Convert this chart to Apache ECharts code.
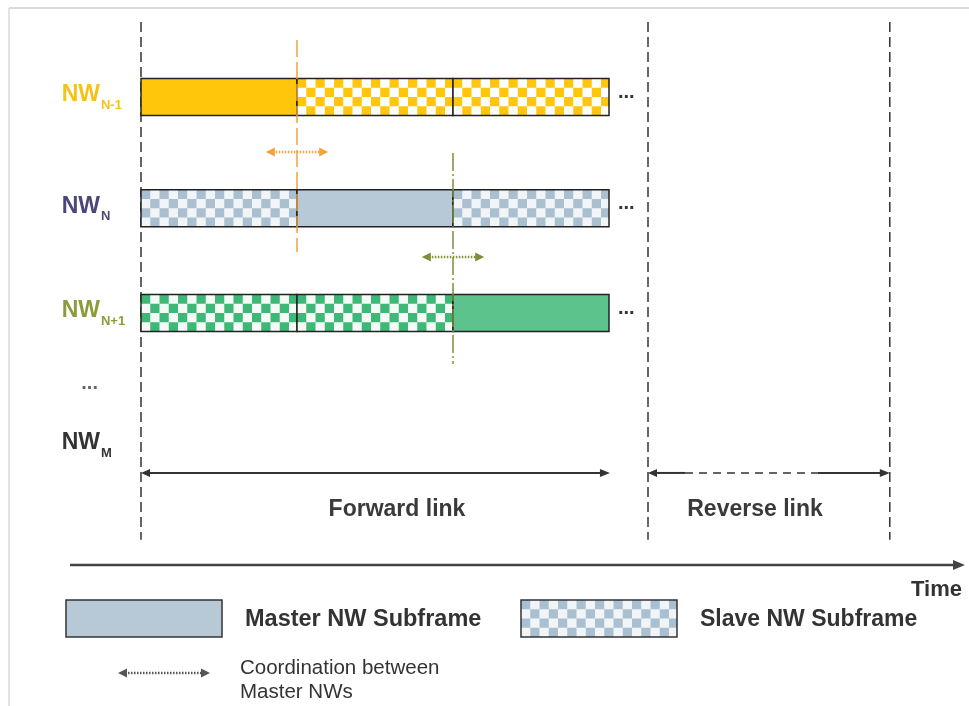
<!DOCTYPE html>
<html>
<head>
<meta charset="utf-8">
<title>Master / slave subframes</title>
<script src="https://cdn.jsdelivr.net/npm/echarts@6/dist/echarts.min.js"></script>
<style>
  html, body { margin: 0; padding: 0; background: #fff; }
  #chart { width: 969px; height: 706px; }
</style>
</head>
<body>
<div id="chart"></div>
<script>
// x axis = time in subframes, y axis = lanes (one network per lane)
const rowLanes = [0, 1.03, 2]
const rowKinds = [
  ['master', 'slave', 'slave'],
  ['slave', 'master', 'slave'],
  ['slave', 'slave', 'master']
]
const subframeStarts = [0, 1, 2]
const subframeLength = 1

// row labels on the left
const labelMain = ['NW', 'NW', 'NW', '...', 'NW']
const labelSub = ['N-1', 'N', 'N+1', '', 'M']
const labelLanes = [0, 1.03, 2, 2.667, 3.222]

// forward / reverse link
const linkNames = ['Forward link', 'Reverse link']
const linkStarts = [0, 3.25]
const linkEnds = [3.006, 4.8]
const linkLabelTimes = [1.641, 3.936]
const linkLane = 3.481
const linkLabelLane = 3.82
const boundaryTimes = [0, 3.25, 4.8]
const boundaryTop = -0.694
const boundaryBottom = 4.1

// coordination between master networks
const coordTimes = [1, 2]
const coordLineTop = [-0.528, 0.519]
const coordLineBottom = [1.435, 2.472]
const coordArrowLanes = [0.509, 1.481]
const coordArrowHalf = 0.2

// time axis
const timeStart = -0.455
const timeEnd = 5.282
const timeLane = 4.333
const timeLabel = 'Time'

const legendNames = ['Master NW Subframe', 'Slave NW Subframe']
const coordLegend = ['Coordination between', 'Master NWs']

// styles
const FONT = '"Liberation Sans", Arial, sans-serif'
const rowColors = ['#FFC60B', '#B7C9D6', '#5DC38D']
const rowChecker = ['#FFC60B', '#AAC0D1', '#3DB877']
const rowCheckerBg = ['#FFFFFF', '#F1F5F8', '#F4FAF6']
const labelColors = ['#F5C21A', '#4B4878', '#8C9B3B', '#666666', '#333333']
const coordColors = ['#F2A23C', '#7E8E37']
const BAR_H = 37

function checkerRects(x, y, w, h, color, bg) {
  const sq = h / 4
  const out = [{ type: 'rect', shape: { x: x, y: y, width: w, height: h }, style: { fill: bg } }]
  for (let r = 0; r < 4; r++) {
    for (let c = 0; c * sq < w - 0.5; c++) {
      if ((r + c) % 2) continue
      out.push({
        type: 'rect',
        shape: { x: x + c * sq, y: y + r * sq, width: Math.min(sq, w - c * sq), height: sq },
        style: { fill: color }
      })
    }
  }
  return out
}

function head(x, y, dir, len, half, color) {
  return {
    type: 'polygon',
    shape: { points: [[x, y], [x - dir * len, y - half], [x - dir * len, y + half]] },
    style: { fill: color }
  }
}

function dottedArrow(x1, x2, y, color) {
  return [
    { type: 'line', shape: { x1: x1 + 7, y1: y, x2: x2 - 7, y2: y }, style: { stroke: color, lineWidth: 2.5, lineDash: [1.5, 1.5] } },
    head(x1, y, -1, 9, 4.5, color),
    head(x2, y, 1, 9, 4.5, color)
  ]
}

const subframeData = []
rowKinds.forEach(function (kinds, r) {
  kinds.forEach(function (k, s) {
    subframeData.push([subframeStarts[s], rowLanes[r], r, k === 'master' ? 1 : 0])
  })
})
const lastStart = subframeStarts[subframeStarts.length - 1]

const chart = echarts.init(document.getElementById('chart'))

const option = {
  animation: false,
  grid: { left: 0, right: 0, top: 0, bottom: 0 },
  xAxis: { type: 'value', min: -141 / 156, max: (969 - 141) / 156, show: false },
  yAxis: { type: 'value', inverse: true, min: -97 / 108, max: (706 - 97) / 108, show: false },
  series: [
    {
      // dashed boundaries of forward / reverse link
      type: 'custom',
      clip: false,
      silent: true,
      data: boundaryTimes.map(function (t) { return [t, boundaryTop, boundaryBottom] }),
      renderItem: function (params, api) {
        const a = api.coord([api.value(0), api.value(1)])
        const b = api.coord([api.value(0), api.value(2)])
        return {
          type: 'line',
          shape: { x1: a[0], y1: a[1], x2: b[0], y2: b[1] },
          style: { stroke: '#333', lineWidth: 1.5, lineDash: [10, 5] }
        }
      }
    },
    {
      // subframe bars
      type: 'custom',
      clip: false,
      silent: true,
      data: subframeData,
      renderItem: function (params, api) {
        const start = api.value(0)
        const r = api.value(2)
        const p0 = api.coord([start, api.value(1)])
        const p1 = api.coord([start + subframeLength, api.value(1)])
        const x = p0[0], y = p0[1] - BAR_H / 2, w = p1[0] - p0[0]
        let children
        if (api.value(3)) {
          children = [{ type: 'rect', shape: { x: x, y: y, width: w, height: BAR_H }, style: { fill: rowColors[r] } }]
        } else {
          children = checkerRects(x, y, w, BAR_H, rowChecker[r], rowCheckerBg[r])
        }
        children.push({ type: 'rect', shape: { x: x, y: y, width: w, height: BAR_H }, style: { fill: 'none', stroke: '#222', lineWidth: 1.5 } })
        if (start === lastStart) {
          children.push({
            type: 'text', x: x + w + 9, y: p0[1] - 5,
            style: { text: '...', fill: '#333', fontSize: 20, fontWeight: 'bold', fontFamily: FONT, textVerticalAlign: 'middle' }
          })
        }
        return { type: 'group', children: children }
      }
    },
    {
      // coordination lines and arrows
      type: 'custom',
      clip: false,
      silent: true,
      data: coordTimes.map(function (t, i) { return [t, coordLineTop[i], coordLineBottom[i], coordArrowLanes[i], i] }),
      renderItem: function (params, api) {
        const t = api.value(0)
        const i = api.value(4)
        const a = api.coord([t, api.value(1)])
        const b = api.coord([t, api.value(2)])
        const l = api.coord([t - coordArrowHalf, api.value(3)])
        const rr = api.coord([t + coordArrowHalf, api.value(3)])
        const dash = i === 0 ? [17, 5] : [18, 3, 2, 3]
        const children = [{
          type: 'line',
          shape: { x1: a[0], y1: a[1], x2: b[0], y2: b[1] },
          style: { stroke: coordColors[i], lineWidth: 1.5, lineDash: dash }
        }].concat(dottedArrow(l[0], rr[0], l[1], coordColors[i]))
        return { type: 'group', children: children }
      }
    },
    {
      // row labels
      type: 'custom',
      clip: false,
      silent: true,
      data: labelLanes.map(function (lane, i) { return [-0.263, lane, i] }),
      renderItem: function (params, api) {
        const i = api.value(2)
        const p = api.coord([api.value(0), api.value(1)])
        const isDots = labelMain[i] === '...'
        const children = [{
          type: 'text', x: isDots ? p[0] - 2 : p[0], y: p[1] - 2,
          style: {
            text: labelMain[i], fill: labelColors[i], fontSize: isDots ? 20 : 23, fontWeight: 'bold',
            fontFamily: FONT, textAlign: 'right', textVerticalAlign: 'middle'
          }
        }]
        if (labelSub[i]) {
          children.push({
            type: 'text', x: p[0] + 1, y: p[1] + 8,
            style: {
              text: labelSub[i], fill: labelColors[i], fontSize: 13, fontWeight: 'bold',
              fontFamily: FONT, textAlign: 'left', textVerticalAlign: 'middle'
            }
          })
        }
        return { type: 'group', children: children }
      }
    },
    {
      // forward / reverse link arrows and names
      type: 'custom',
      clip: false,
      silent: true,
      data: linkNames.map(function (n, i) { return [linkStarts[i], linkLane, linkEnds[i], linkLabelLane, i, linkLabelTimes[i]] }),
      renderItem: function (params, api) {
        const i = api.value(4)
        const a = api.coord([api.value(0), api.value(1)])
        const b = api.coord([api.value(2), api.value(1)])
        const m = api.coord([api.value(5), api.value(3)])
        const col = '#333'
        let children
        if (i === 0) {
          children = [{ type: 'line', shape: { x1: a[0] + 6, y1: a[1], x2: b[0] - 8, y2: b[1] }, style: { stroke: col, lineWidth: 2 } }]
        } else {
          children = [
            { type: 'line', shape: { x1: a[0] + 6, y1: a[1], x2: a[0] + 37, y2: a[1] }, style: { stroke: col, lineWidth: 2 } },
            { type: 'line', shape: { x1: a[0] + 37, y1: a[1], x2: b[0] - 72, y2: a[1] }, style: { stroke: col, lineWidth: 1.5, lineDash: [8, 6] } },
            { type: 'line', shape: { x1: b[0] - 72, y1: a[1], x2: b[0] - 8, y2: a[1] }, style: { stroke: col, lineWidth: 2 } }
          ]
        }
        children.push(head(a[0], a[1], -1, 9, 4, col), head(b[0], b[1], 1, 10, 4, col))
        children.push({
          type: 'text', x: m[0], y: m[1],
          style: { text: linkNames[i], fill: '#3a3a3a', fontSize: 23, fontWeight: 'bold', fontFamily: FONT, textAlign: 'center', textVerticalAlign: 'middle' }
        })
        return { type: 'group', children: children }
      }
    },
    {
      // time axis
      type: 'custom',
      clip: false,
      silent: true,
      data: [[timeStart, timeLane, timeEnd]],
      renderItem: function (params, api) {
        const a = api.coord([api.value(0), api.value(1)])
        const b = api.coord([api.value(2), api.value(1)])
        return {
          type: 'group',
          children: [
            { type: 'line', shape: { x1: a[0], y1: a[1], x2: b[0] - 10, y2: b[1] }, style: { stroke: '#444', lineWidth: 2.5 } },
            head(b[0], b[1], 1, 12, 5, '#444'),
            {
              type: 'text', x: b[0] - 3, y: b[1] + 25,
              style: { text: timeLabel, fill: '#333', fontSize: 22, fontWeight: 'bold', fontFamily: FONT, textAlign: 'right', textVerticalAlign: 'middle' }
            }
          ]
        }
      }
    }
  ],
  graphic: [
    // thin frame lines top and left
    { type: 'line', shape: { x1: 9, y1: 8, x2: 969, y2: 8 }, style: { stroke: '#cfcfcf', lineWidth: 1.5 }, silent: true },
    { type: 'line', shape: { x1: 9, y1: 8, x2: 9, y2: 706 }, style: { stroke: '#dadada', lineWidth: 1.5 }, silent: true },
    {
      type: 'group',
      silent: true,
      children: [
        { type: 'rect', shape: { x: 66, y: 600, width: 156, height: 37 }, style: { fill: rowColors[1], stroke: '#333', lineWidth: 1.5 } },
        {
          type: 'text', x: 245, y: 620,
          style: { text: legendNames[0], fill: '#333', fontSize: 23.5, fontWeight: 'bold', fontFamily: FONT, textVerticalAlign: 'middle' }
        }
      ]
        .concat(checkerRects(521, 600, 156, 37, rowChecker[1], rowCheckerBg[1]))
        .concat([
          { type: 'rect', shape: { x: 521, y: 600, width: 156, height: 37 }, style: { fill: 'none', stroke: '#333', lineWidth: 1.5 } },
          {
            type: 'text', x: 700, y: 620,
            style: { text: legendNames[1], fill: '#333', fontSize: 23, fontWeight: 'bold', fontFamily: FONT, textVerticalAlign: 'middle' }
          },
          {
            type: 'text', x: 240, y: 668,
            style: { text: coordLegend[0], fill: '#333', fontSize: 20.5, fontFamily: FONT, textVerticalAlign: 'middle' }
          },
          {
            type: 'text', x: 240, y: 692,
            style: { text: coordLegend[1], fill: '#333', fontSize: 20.5, fontFamily: FONT, textVerticalAlign: 'middle' }
          }
        ])
        .concat(dottedArrow(118, 210, 673, '#555'))
    }
  ]
}

chart.setOption(option)
</script>
</body>
</html>
